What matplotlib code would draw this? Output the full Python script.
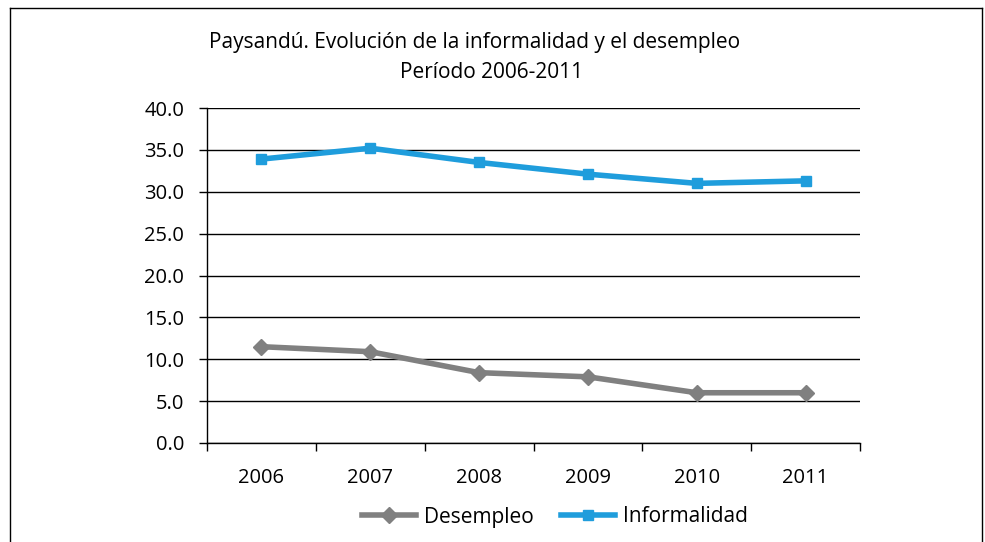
import matplotlib
matplotlib.use("Agg")
import matplotlib.pyplot as plt
from matplotlib.lines import Line2D

years = ["2006", "2007", "2008", "2009", "2010", "2011"]
desempleo = [11.5, 10.9, 8.4, 7.9, 6.0, 6.0]
informalidad = [33.9, 35.2, 33.5, 32.1, 31.0, 31.3]
yticks = [0, 5, 10, 15, 20, 25, 30, 35, 40]

title1 = "Paysandú. Evolución de la informalidad y el desempleo"
title2 = "Período 2006-2011"

W, H = 985, 542
fig = plt.figure(figsize=(W / 100, H / 100), dpi=100)
fig.patch.set_facecolor("white")

# outer frame (bottom cut off)
fx0, fx1, fy1 = 10 / W, 982 / W, 1 - 8 / H
for xs, ys in [([fx0, fx0], [0, fy1]), ([fx0, fx1], [fy1, fy1]), ([fx1, fx1], [0, fy1])]:
    fig.add_artist(Line2D(xs, ys, transform=fig.transFigure, color="black", lw=1.0))

ax = fig.add_axes([207 / W, 1 - 443 / H, (860 - 207) / W, (443 - 108) / H])

x = [i + 0.5 for i in range(len(years))]
ax.plot(x, desempleo, color="#808080", lw=4.0, marker="D", markersize=8.5,
        label="Desempleo", zorder=3)
ax.plot(x, informalidad, color="#1f9ddc", lw=4.0, marker="s", markersize=7.8,
        label="Informalidad", zorder=3)

ax.set_xlim(0, len(years))
ax.set_ylim(0, 40)
ax.set_yticks(yticks)
ax.set_yticklabels([f"{v:.1f}" for v in yticks])
ax.yaxis.grid(True, color="black", lw=1.0)
ax.set_axisbelow(True)

ax.set_xticks(range(len(years) + 1))
ax.set_xticklabels([])
ax.set_xticks(x, minor=True)
ax.set_xticklabels(years, minor=True)
ax.tick_params(axis="x", which="minor", length=0, pad=18)
ax.tick_params(axis="x", which="major", length=6, width=1, direction="out")
ax.tick_params(axis="y", length=6, width=1, direction="out", pad=10.5)

for lab in ax.get_xticklabels(minor=True) + ax.get_yticklabels():
    lab.set_fontfamily(["Open Sans", "DejaVu Sans"])
    lab.set_fontsize(14.5)

for s in ["top", "right"]:
    ax.spines[s].set_visible(False)
for s in ["left", "bottom"]:
    ax.spines[s].set_color("black")
    ax.spines[s].set_linewidth(1.0)

tfam = ["Open Sans", "DejaVu Sans"]
fig.text(475 / W, 1 - 42 / H, title1, ha="center", va="center", fontsize=15, family=tfam)
fig.text(492 / W, 1 - 72 / H, title2, ha="center", va="center", fontsize=15, family=tfam)

leg = fig.legend(loc="center", bbox_to_anchor=(555 / W, 1 - 517 / H), ncol=2, frameon=False,
                 prop={"family": ["Open Sans", "DejaVu Sans"], "size": 15},
                 handlelength=2.6, columnspacing=1.3, handletextpad=0.4)

fig.savefig("out.png", dpi=100, facecolor="white")
